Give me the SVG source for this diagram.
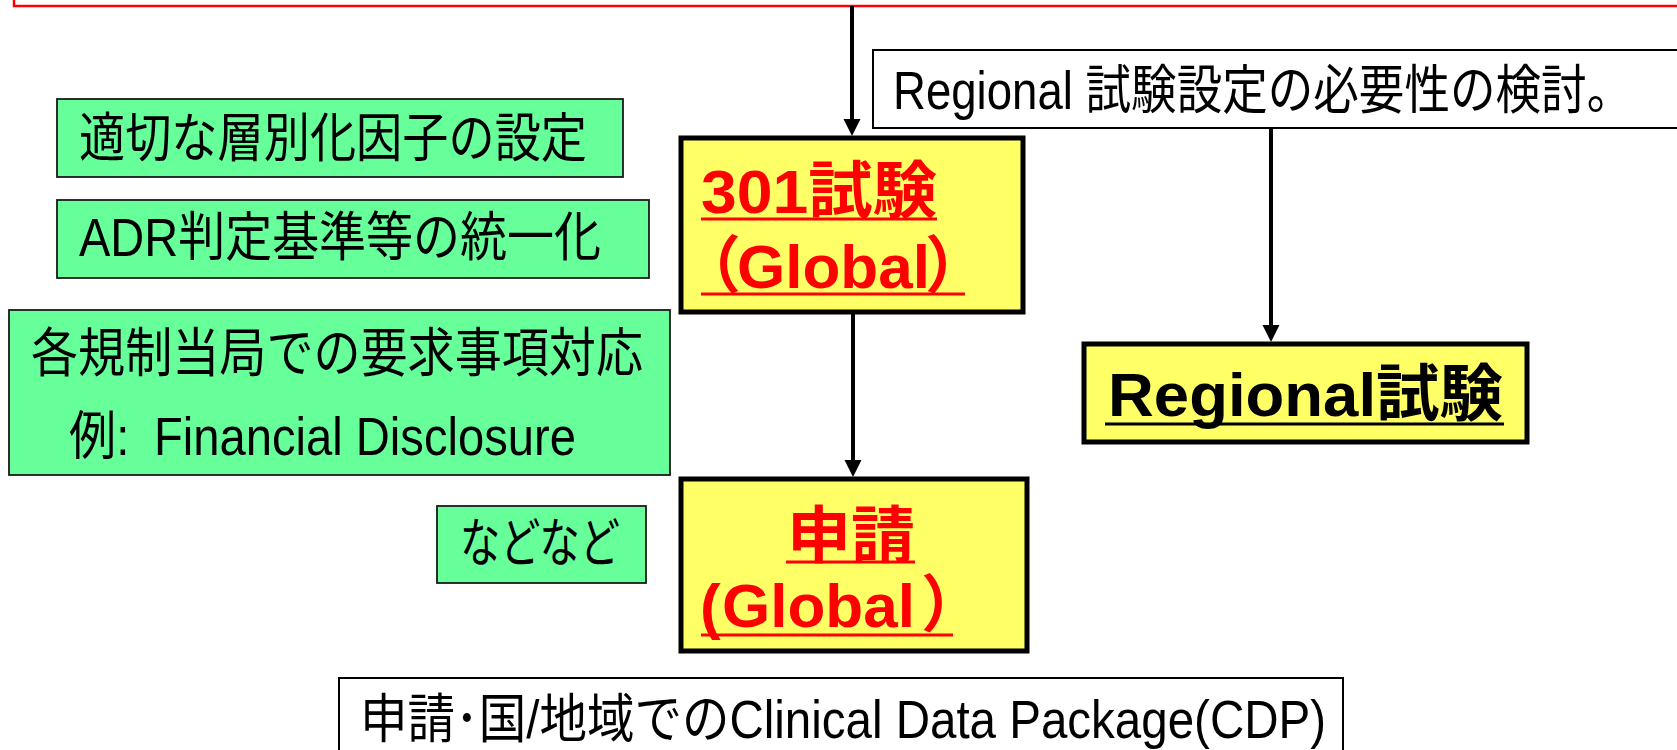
<svg xmlns="http://www.w3.org/2000/svg" width="1677" height="750" viewBox="0 0 1677 750">
<defs>
<style>
.t{font-family:"Liberation Sans","Noto Sans CJK JP",sans-serif;fill:#000}
.r{font-size:53px}
.b{font-size:62px;font-weight:bold}
.red{fill:#FF0000}
.green{fill:#66FF99;stroke:#1a1a1a;stroke-width:1.8}
.yellow{fill:#FFFF66;stroke:#000;stroke-width:5}
.white{fill:#FFFFFF;stroke:#000;stroke-width:2}
.ulr{stroke:#FF0000;stroke-width:3}
.ulb{stroke:#000;stroke-width:3}
.conn{stroke:#000;stroke-width:4;fill:none}
</style>
<marker id="arr" markerUnits="userSpaceOnUse" markerWidth="18" markerHeight="18" viewBox="0 0 18 18" refX="1" refY="9" orient="auto">
<path d="M0,0.5 L17,9 L0,17.5 z" fill="#000"/>
</marker>
</defs>
<rect width="1677" height="750" fill="#FFFFFF"/>

<g id="top-box">
<rect x="14" y="-20" width="1690" height="26" fill="#FFFFFF" stroke="#FF0000" stroke-width="2.5"/>
</g>

<g id="regional-note">
<rect class="white" x="873" y="50" width="830" height="78"/>
<text class="t r" transform="scale(0.86 1)" x="1038.4" y="109">Regional 試験設定の必要性の検討。</text>
</g>

<g id="stratification">
<rect class="green" x="57" y="99" width="566" height="78"/>
<text class="t r" x="79" y="157" textLength="508" lengthAdjust="spacingAndGlyphs">適切な層別化因子の設定</text>
</g>

<g id="adr">
<rect class="green" x="57" y="200" width="592" height="78"/>
<text class="t r" x="79" y="256" textLength="522" lengthAdjust="spacingAndGlyphs">ADR判定基準等の統一化</text>
</g>

<g id="regulatory">
<rect class="green" x="9" y="310" width="661" height="165"/>
<text class="t r" x="31" y="372" textLength="612" lengthAdjust="spacingAndGlyphs">各規制当局での要求事項対応</text>
<text class="t r" transform="scale(0.89 1)" y="455"><tspan x="77.5">例: </tspan><tspan x="173">Financial Disclosure</tspan></text>
</g>

<g id="etc">
<rect class="green" x="437" y="506" width="209" height="77"/>
<text class="t r" x="460" y="562" textLength="160" lengthAdjust="spacingAndGlyphs">などなど</text>
</g>

<g id="study301">
<rect class="yellow" x="681" y="138" width="342" height="174"/>
<text class="t b red" x="701" y="213" textLength="236" lengthAdjust="spacingAndGlyphs">301試験</text>
<line class="ulr" x1="701" y1="219" x2="937" y2="219"/>
<text class="t b red" y="288"><tspan x="679">（</tspan><tspan x="737">Global</tspan><tspan x="925">）</tspan></text>
<line class="ulr" x1="701" y1="294" x2="965" y2="294"/>
</g>

<g id="submission">
<rect class="yellow" x="681" y="479" width="346" height="172"/>
<text class="t b red" x="787" y="558" textLength="128" lengthAdjust="spacingAndGlyphs">申請</text>
<line class="ulr" x1="786" y1="562" x2="915" y2="562"/>
<text class="t b red" y="627"><tspan x="700">(</tspan><tspan x="722">Global</tspan><tspan x="921">）</tspan></text>
<line class="ulr" x1="701" y1="635" x2="953" y2="635"/>
</g>

<g id="regional-study">
<rect class="yellow" x="1084" y="344" width="443" height="98"/>
<text class="t b" x="1108" y="416" textLength="395" lengthAdjust="spacingAndGlyphs">Regional試験</text>
<line class="ulb" x1="1105" y1="424" x2="1504" y2="424"/>
</g>

<g id="cdp">
<rect class="white" x="339" y="678" width="1004" height="90"/>
<text class="t r" x="360" y="738" textLength="966" lengthAdjust="spacingAndGlyphs">申請･国/地域でのClinical Data Package(CDP)</text>
</g>

<g id="connectors">
<line class="conn" x1="852" y1="6" x2="852" y2="120" marker-end="url(#arr)"/>
<line class="conn" x1="853" y1="312" x2="853" y2="461" marker-end="url(#arr)"/>
<line class="conn" x1="1271" y1="128" x2="1271" y2="326" marker-end="url(#arr)"/>
</g>
</svg>
